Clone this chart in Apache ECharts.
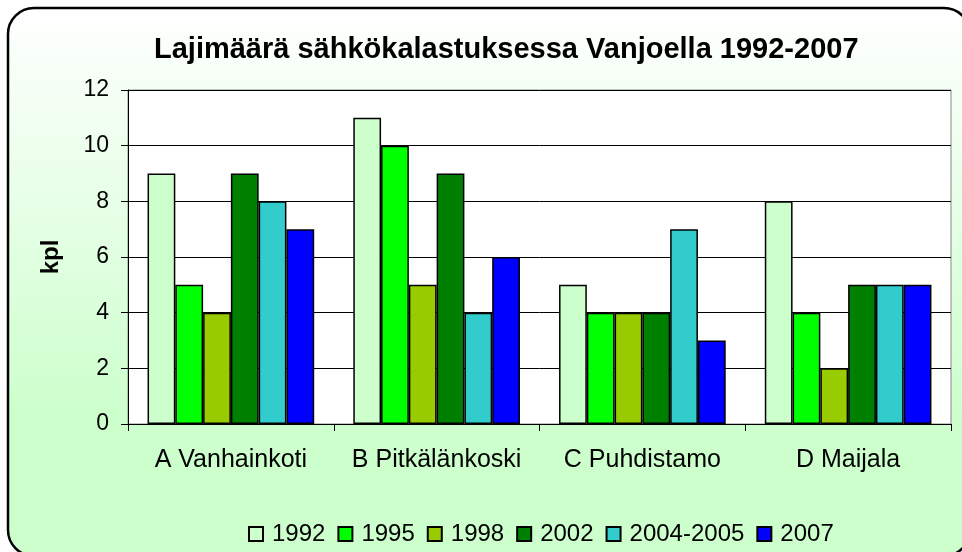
<!DOCTYPE html>
<html><head><meta charset="utf-8">
<script src="https://cdn.jsdelivr.net/npm/echarts@6/dist/echarts.min.js"></script>
<style>html,body{margin:0;padding:0;background:#fff}#c{width:962px;height:552px}</style>
</head><body><div id="c"></div>
<script>
const categories = ['A Vanhainkoti', 'B Pitkälänkoski', 'C Puhdistamo', 'D Maijala'];
const seriesNames = ['1992', '1995', '1998', '2002', '2004-2005', '2007'];
const v1992 = [9, 11, 5, 8];
const v1995 = [5, 10, 4, 4];
const v1998 = [4, 5, 4, 2];
const v2002 = [9, 9, 4, 5];
const v2004 = [8, 4, 7, 5];
const v2007 = [7, 6, 3, 5];
const colors = ['#CCFFCC', '#00FF00', '#99CC00', '#008000', '#33CCCC', '#0000FF'];
const values = [v1992, v1995, v1998, v2002, v2004, v2007];
const yTicks = [0, 2, 4, 6, 8, 10, 12];

const chart = echarts.init(document.getElementById('c'));
const font = 'Arial, "Liberation Sans", sans-serif';
chart.setOption({
  animation: false,
  textStyle: {fontFamily: font},
  graphic: {
    elements: [{
      type: 'rect', z: -100, silent: true,
      shape: {x: 8, y: 8, width: 962, height: 548, r: 26},
      style: {
        fill: {type: 'linear', x: 0, y: 0, x2: 0, y2: 1, colorStops: [
          {offset: 0, color: '#FFFFFF'}, {offset: 0.75, color: '#CCFFCC'}, {offset: 1, color: '#CCFFCC'}]},
        stroke: '#000', lineWidth: 2.5
      }
    }]
  },
  title: {
    text: 'Lajimäärä sähkökalastuksessa Vanjoella 1992-2007',
    left: 149, top: 30,
    textStyle: {fontSize: 29, fontWeight: 'bold', color: '#000', fontFamily: font}
  },
  legend: {
    left: 243, top: 517,
    itemWidth: 14, itemHeight: 14, itemGap: 12,
    icon: 'rect',
    textStyle: {fontSize: 24, color: '#000', padding: [0, 0, 0, 4]},
    data: seriesNames
  },
  grid: {
    left: 128, right: 11, top: 90, bottom: 128,
    show: true, backgroundColor: '#fff', borderColor: '#888', borderWidth: 1
  },
  xAxis: {
    type: 'category', data: categories,
    axisLine: {lineStyle: {color: '#000', width: 1}},
    axisTick: {show: true, length: 7, lineStyle: {color: '#000'}},
    axisLabel: {fontSize: 25, color: '#000', margin: 24, interval: 0}
  },
  yAxis: {
    type: 'value', min: 0, max: 12, interval: 2,
    name: 'kpl', nameLocation: 'middle', nameGap: 65, nameRotate: 90,
    nameTextStyle: {fontSize: 24, fontWeight: 'bold', color: '#000'},
    axisLine: {show: true, lineStyle: {color: '#000', width: 1}},
    axisTick: {show: true, length: 7, lineStyle: {color: '#000'}},
    axisLabel: {fontSize: 23, color: '#000', margin: 19,
      formatter: v => yTicks.includes(v) ? String(v) : ''},
    splitLine: {lineStyle: {color: '#000', width: 1}}
  },
  series: seriesNames.map((n, i) => ({
    name: n, type: 'bar', data: values[i],
    barGap: '0%', barCategoryGap: '19%',
    itemStyle: {color: colors[i], borderColor: '#000', borderWidth: 1.5}
  }))
});
</script></body></html>
